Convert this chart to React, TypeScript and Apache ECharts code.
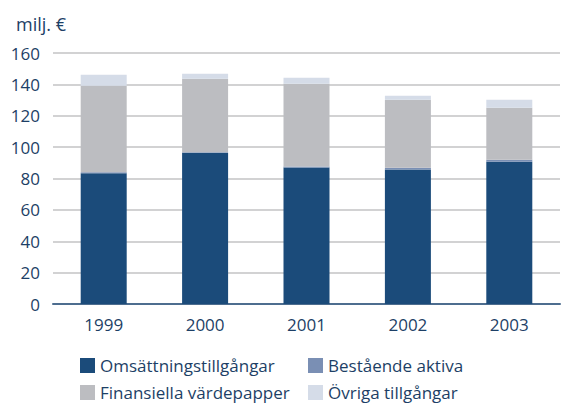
import React, { useEffect, useRef } from "react";
import * as echarts from "echarts";

const years = ["1999", "2000", "2001", "2002", "2003"];
const omsattning = [83.4, 96.4, 87, 85.7, 90.6];
const bestaende = [0.6, 0.3, 0.6, 1.1, 1.3];
const finansiella = [55.1, 46.9, 52.8, 43.4, 33.2];
const ovriga = [7, 3.2, 3.8, 2.5, 5.1];
const yTicks = { min: 0, max: 160, interval: 20 };

const TXT = "#1d3f66";
const FONT = "Open Sans";

export default function App() {
  const ref = useRef<HTMLDivElement>(null);
  useEffect(() => {
    document.body.style.margin = "0";
    const chart = echarts.init(ref.current!, null, { renderer: "svg" });
    const mk = (name: string, data: number[], color: string) => ({
      name,
      type: "bar",
      stack: "a",
      data,
      barWidth: 46,
      itemStyle: { color },
      emphasis: { disabled: true },
    });
    const legendBase = {
      orient: "vertical",
      top: 352,
      height: 54,
      itemWidth: 15,
      itemHeight: 15,
      itemGap: 10,
      icon: "rect",
      textStyle: { color: TXT, fontSize: 17, fontFamily: FONT },
      selectedMode: false,
    };
    chart.setOption({
      animation: false,
      textStyle: { fontFamily: FONT },
      title: {
        text: "milj. €",
        left: 11,
        top: 10,
        textStyle: { color: TXT, fontSize: 18, fontWeight: "normal", fontFamily: FONT },
      },
      grid: { left: 53, right: 1, top: 53, bottom: 102 },
      xAxis: {
        type: "category",
        data: years,
        axisTick: { show: false },
        axisLine: { lineStyle: { color: "#4d6d8f", width: 2 } },
        axisLabel: { color: TXT, fontSize: 17, margin: 12, fontFamily: FONT },
      },
      yAxis: {
        type: "value",
        min: yTicks.min,
        max: yTicks.max,
        interval: yTicks.interval,
        axisLine: { show: false },
        axisTick: { show: false },
        splitLine: { lineStyle: { color: "#c3c3c5", width: 1.5 } },
        axisLabel: { color: TXT, fontSize: 17, margin: 13, fontFamily: FONT },
      },
      legend: [
        { ...legendBase, left: 75, data: ["Omsättningstillgångar", "Finansiella värdepapper"] },
        { ...legendBase, left: 303, data: ["Bestående aktiva", "Övriga tillgångar"] },
      ],
      series: [
        mk("Omsättningstillgångar", omsattning, "#1b4b7a"),
        mk("Bestående aktiva", bestaende, "#7a8fb4"),
        mk("Finansiella värdepapper", finansiella, "#bcbdc1"),
        mk("Övriga tillgångar", ovriga, "#d5dce8"),
      ],
    });
    return () => chart.dispose();
  }, []);
  return <div ref={ref} style={{ width: 561, height: 406 }} />;
}
